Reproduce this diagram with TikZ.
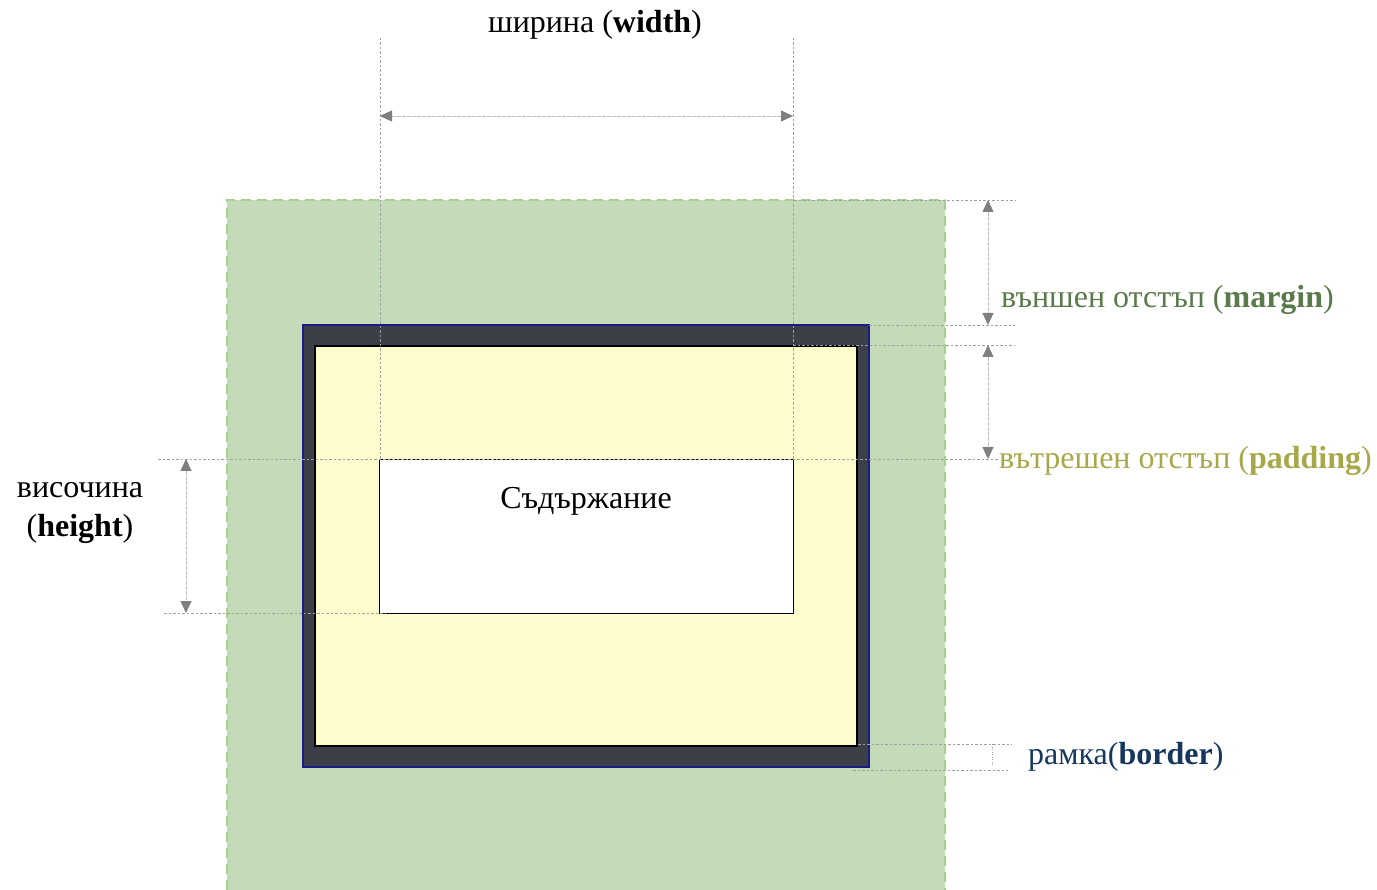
\documentclass[tikz,border=0pt]{standalone}
\usepackage{fontspec}
\setmainfont{Liberation Serif}
\usetikzlibrary{arrows.meta,calc}
\definecolor{margfill}{HTML}{C4DBB9}
\definecolor{margedge}{HTML}{A9D08E}
\definecolor{bordfill}{HTML}{3C3F47}
\definecolor{bordedge}{HTML}{1A1A8A}
\definecolor{padfill}{HTML}{FDFCCC}
\definecolor{guide}{HTML}{A0A0A0}
\definecolor{shaft}{HTML}{BDBDBD}
\definecolor{arrowc}{HTML}{7F7F7F}
\definecolor{margtxt}{HTML}{5A7A4C}
\definecolor{padtxt}{HTML}{A8A84A}
\definecolor{bordtxt}{HTML}{17375E}
\begin{document}
\begin{tikzpicture}[x=1pt,y=-1pt,
  box/.style={inner sep=0pt,outer sep=0pt,anchor=center},
  guideline/.style={draw=guide,line width=0.7pt,dash pattern=on 2.5pt off 2pt},
  dimarrow/.style={draw=shaft,line width=0.9pt,dash pattern=on 4pt off 1pt,
     {Triangle[length=12pt,width=11pt,fill=arrowc,color=arrowc]}-{Triangle[length=12pt,width=11pt,fill=arrowc,color=arrowc]}},
  lbl/.style={font=\fontsize{32}{38}\selectfont,inner sep=0pt}]
\useasboundingbox (0,0) rectangle (1377,890);
% boxes
\node[box,fill=margfill,draw=margedge,line width=1.5pt,dash pattern=on 10pt off 6pt,
  minimum width=718pt,minimum height=700pt] (margin) at (586,550) {};
\node[box,fill=bordfill,draw=bordedge,line width=1.5pt,
  minimum width=566pt,minimum height=442pt] (border) at (586,546) {};
\node[box,fill=padfill,draw=black,line width=2pt,
  minimum width=542pt,minimum height=400pt] (padding) at (586,546) {};
\node[box,fill=white,draw=black,line width=0.8pt,
  minimum width=414pt,minimum height=154pt] (content) at (586,536) {};
\node[lbl] (contenttxt) at ($(content.north)+(0,42)$) {Съдържание};
% width guides
\coordinate (wl) at (380,38);
\coordinate (wr) at (793,38);
\draw[guideline] (wl) -- (wl |- content.north);
\draw[guideline] (wr) -- (wr |- content.north);
\coordinate (wal) at (380,116);
\coordinate (war) at (793,116);
\draw[dimarrow] (wal) -- (war);
\node[lbl] (widthtxt) at (595,25) {ширина (\textbf{width})};
% margin / padding guides
\coordinate (m1a) at (794,200);  \coordinate (m1b) at (1015,200);
\coordinate (m2a) at (border.north east); \coordinate (m2b) at (1015,325);
\coordinate (p1a) at (793,345);  \coordinate (p1b) at (1015,345);
\coordinate (p2a) at (158,459);  \coordinate (p2b) at (998,459);
\draw[guideline] (m1a) -- (m1b);
\draw[guideline] (m2a) -- (m2b);
\draw[guideline] (p1a) -- (p1b);
\draw[guideline] (p2a) -- (p2b);
\coordinate (ma1) at (988,200); \coordinate (ma2) at (988,325);
\coordinate (pa1) at (988,345); \coordinate (pa2) at (988,459);
\draw[dimarrow] (ma1) -- (ma2);
\draw[dimarrow] (pa1) -- (pa2);
\node[lbl,anchor=west,text=margtxt] (margintxt) at (1001,300) {външен отстъп (\textbf{margin})};
\node[lbl,anchor=west,text=padtxt] (paddingtxt) at (999,461) {вътрешен отстъп (\textbf{padding})};
% height guides
\coordinate (h2a) at (164,613); \coordinate (h2b) at (385,613);
\draw[guideline] (h2a) -- (h2b);
\coordinate (ha1) at (186,459); \coordinate (ha2) at (186,613);
\draw[dimarrow] (ha1) -- (ha2);
\node[lbl] (heighttxt1) at (80,490) {височина};
\node[lbl] (heighttxt2) at (80,529) {(\textbf{height})};
% border guides
\coordinate (b1a) at (858,744); \coordinate (b1b) at (1012,744);
\coordinate (b2a) at (853,770); \coordinate (b2b) at (1008,770);
\draw[guideline] (b1a) -- (b1b);
\draw[guideline] (b2a) -- (b2b);
\coordinate (bv1) at (992,744); \coordinate (bv2) at (992,766);
\draw[guideline,dash pattern=on 1pt off 1.5pt] (bv1) -- (bv2);
\node[lbl,anchor=west,text=bordtxt] (bordertxt) at (1028,757) {рамка(\textbf{border})};
\end{tikzpicture}
\end{document}
